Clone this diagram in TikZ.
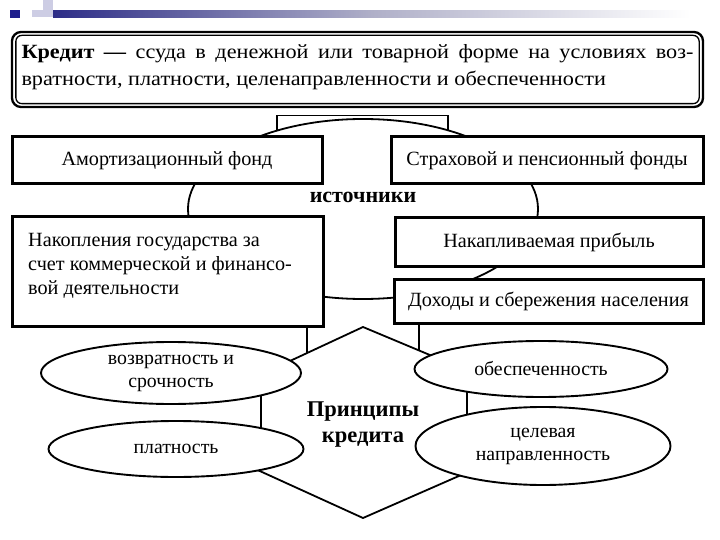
\documentclass[tikz,border=0pt]{standalone}
\usepackage{fontspec}
\setmainfont{Liberation Serif}
\newfontfamily\deffont{Liberation Serif}[FakeStretch=1.1]
\newfontfamily\headfont{Liberation Serif}
\usetikzlibrary{shapes.geometric,backgrounds}
\definecolor{decoNavy}{RGB}{30,30,140}
\definecolor{decoBar}{RGB}{45,45,135}
\definecolor{decoMid}{RGB}{175,175,200}
\definecolor{decoLight}{RGB}{205,205,228}
\begin{document}
\begin{tikzpicture}[x=1pt,y=-1pt,
  box/.style={draw, line width=3pt, fill=white, inner sep=0pt},
  oval/.style={ellipse, draw, line width=1.9pt, fill=white, inner sep=0pt, align=center,
    font=\fontsize{19.8}{23}\selectfont},
  link/.style={line width=1.8pt},
  txt/.style={font=\fontsize{20.2}{24}\selectfont},
  heading/.style={font=\headfont\fontsize{22}{26}\selectfont\bfseries, align=center, inner sep=0pt}]

\useasboundingbox (0,0) rectangle (720,540);

% slide decoration
\fill[decoLight] (43,0) rectangle (53,17.5);
\fill[decoLight] (32,10.5) rectangle (43,17.5);
\fill[decoNavy] (10,10) rectangle (20,18);
\shade[left color=decoBar, right color=white, middle color=decoMid] (53,10.5) rectangle (690,17.5);

% definition box
\node (def) [draw, rounded corners=9pt, line width=2.3pt, minimum width=691, minimum height=75, inner sep=0pt]
  at (357.5,69.5) {\parbox[c][50pt][t]{672pt}{\deffont\fontsize{20.2}{26.5}\selectfont
  \textbf{Кредит —} ссуда в денежной или товарной форме на условиях воз-\linebreak
  вратности, платности, целенаправленности и обеспеченности}};
\draw[line width=1.3pt, rounded corners=6pt]
  ([xshift=5pt,yshift=-4.5pt]def.north west) rectangle ([xshift=-5pt,yshift=4.5pt]def.south east);

% source boxes
\node (amort) [box, txt, minimum width=310, minimum height=47] at (167,160.5) {Амортизационный фонд};
\node (strakh) [box, txt, minimum width=312, minimum height=47] at (547,160.5) {Страховой и пенсионный фонды};
\node (nakop) [box, minimum width=311, minimum height=109] at (167.5,271.5) {};
\node (nakopT) [txt, anchor=north west, align=left, inner sep=0pt] at (28,233.5)
  {Накопления государства за\\счет коммерческой и финансо-\\вой деятельности};
\node (prib) [box, txt, minimum width=308, minimum height=48] at (549,242) {Накапливаемая прибыль};
\node (dokh) [box, txt, minimum width=309, minimum height=44] at (548.5,301) {Доходы и сбережения населения};
\node (istoch) [heading] at (363,197) {источники};

% principle ovals
\node (vozv) [oval, minimum width=260, minimum height=62] at (171,373) {возвратность и\\срочность};
\node (plat) [oval, minimum width=255, minimum height=56] at (176,449) {платность};
\node (obesp) [oval, minimum width=253, minimum height=56] at (541,369) {обеспеченность};
\node (tsel) [oval, minimum width=255, minimum height=78] at (543,446) {целевая\\направленность};
\node (princ) [heading, font=\headfont\fontsize{22.5}{26}\selectfont\bfseries] at (363,425) {Принципы\\кредита};

% connectors behind the shapes
\begin{scope}[on background layer]
  \fill[white] (0,0) rectangle (720,540);
  \node (src) [ellipse, draw, line width=1.8pt, minimum width=350, minimum height=180, inner sep=0pt] at (363,209) {};
  \coordinate (brL) at (277,130.5);
  \coordinate (brR) at (448,130.3);
  \coordinate (brLt) at (277,115.5);
  \coordinate (brRt) at (448,115.5);
  \draw[line width=1.5pt] (brL) -- (brLt) -- (brRt) -- (brR);

  \coordinate (T) at (363,327);
  \coordinate (B) at (363,518);
  \coordinate (dL) at (250,379.6);
  \coordinate (dR) at (470,371.8);
  \coordinate (bL) at (240,462);
  \coordinate (bR) at (500,458);
  \draw[link, line join=miter] (dL) -- (T) -- (dR);
  \draw[link, line join=miter] (bL) -- (B) -- (bR);

  \coordinate (kL) at (307,353.1);
  \coordinate (kR) at (419,350.5);
  \draw[link] (nakop.south -| kL) -- (kL);
  \draw[link] (dokh.south -| kR) -- (kR);

  \coordinate (vL) at (261,410);
  \coordinate (vR) at (467,405);
  \draw[link] (vozv.center -| vL) -- (plat.center -| vL);
  \draw[link] (obesp.center -| vR) -- (tsel.center -| vR);
\end{scope}
\end{tikzpicture}
\end{document}
